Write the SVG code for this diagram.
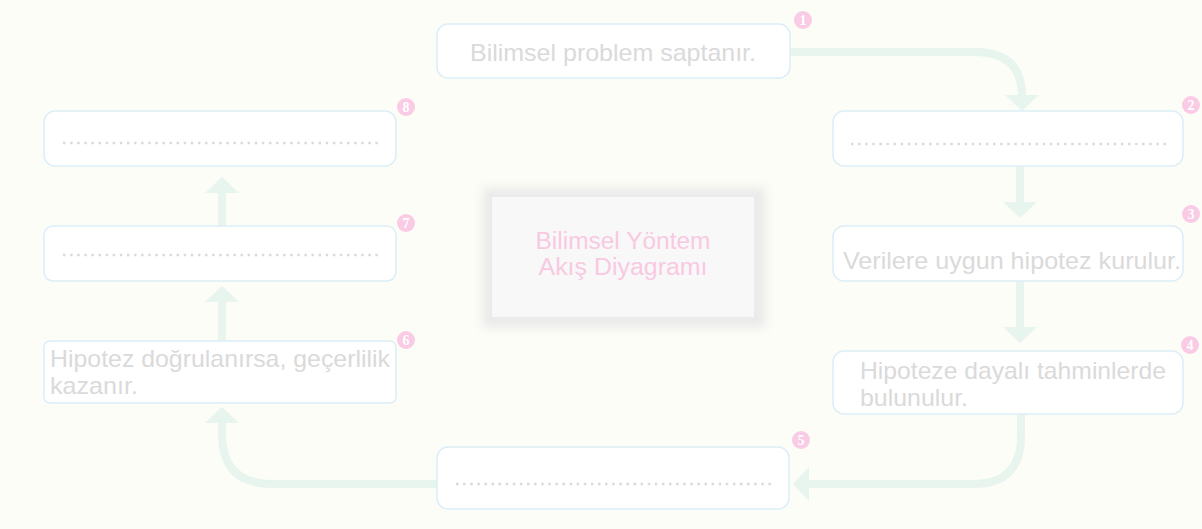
<svg xmlns="http://www.w3.org/2000/svg" width="1202" height="529" viewBox="0 0 1202 529">
<style>
.node{fill:#ffffff;stroke:#dbeef8;stroke-width:1.5}
.txt{font-family:"Liberation Sans",Arial,sans-serif;font-size:24px;fill:#dadada}
.dots{stroke:#dadada;stroke-width:2.5;stroke-dasharray:2.5 4.6;fill:none}
.badge{fill:#f9cbe4}
.bnum{font-family:"Liberation Serif","Times New Roman",serif;font-size:14px;font-weight:bold;fill:#ffffff;text-anchor:middle}
.conn{fill:none;stroke:#e8f4ee;stroke-width:8}
.title{font-family:"Liberation Sans",Arial,sans-serif;font-size:23px;fill:#f9c9e2;text-anchor:middle}
</style>
<defs>
<marker id="ah" viewBox="0 0 16 34" refX="1" refY="17" markerWidth="16" markerHeight="34" markerUnits="userSpaceOnUse" orient="auto">
<path d="M0,0 L16,17 L0,34 z" fill="#e8f4ee"/>
</marker>
<filter id="blur" x="-20%" y="-20%" width="140%" height="140%">
<feGaussianBlur stdDeviation="5"/>
</filter>
</defs>
<rect width="1202" height="529" fill="#fdfdf7"/>

<g id="connectors">
<path class="conn" d="M790,52 H975 Q1022,52 1022,96" marker-end="url(#ah)"/>
<path class="conn" d="M1020,166 V203" marker-end="url(#ah)"/>
<path class="conn" d="M1020,281 V328" marker-end="url(#ah)"/>
<path class="conn" d="M1021,414 V436 Q1021,484 973,484 H808" marker-end="url(#ah)"/>
<path class="conn" d="M437,484 H272 Q222,484 222,434 V422" marker-end="url(#ah)"/>
<path class="conn" d="M222,341 V301" marker-end="url(#ah)"/>
<path class="conn" d="M222,226 V192" marker-end="url(#ah)"/>
</g>

<g id="center">
<rect x="482" y="187" width="284" height="141" fill="#ebebeb" filter="url(#blur)"/>
<rect x="492" y="197" width="262" height="120" fill="#f8f8f8"/>
<text class="title" x="623" y="249" textLength="175" lengthAdjust="spacingAndGlyphs">Bilimsel Yöntem</text>
<text class="title" x="623" y="275" textLength="169" lengthAdjust="spacingAndGlyphs">Akış Diyagramı</text>
</g>

<g id="node1">
<rect class="node" x="437" y="24" width="353" height="54" rx="11"/>
<text class="txt" x="470" y="61" textLength="286" lengthAdjust="spacingAndGlyphs">Bilimsel problem saptanır.</text>
<circle class="badge" cx="803" cy="20" r="9"/><text class="bnum" x="803" y="25">1</text>
</g>

<g id="node2">
<rect class="node" x="833" y="111" width="350" height="55" rx="11"/>
<line class="dots" x1="851" y1="144" x2="1168" y2="144"/>
<circle class="badge" cx="1191" cy="105" r="9"/><text class="bnum" x="1191" y="110">2</text>
</g>

<g id="node3">
<rect class="node" x="833" y="226" width="350" height="55" rx="11"/>
<text class="txt" x="843" y="269" textLength="338" lengthAdjust="spacingAndGlyphs">Verilere uygun hipotez kurulur.</text>
<circle class="badge" cx="1191" cy="214" r="9"/><text class="bnum" x="1191" y="219">3</text>
</g>

<g id="node4">
<rect class="node" x="833" y="351" width="350" height="63" rx="11"/>
<text class="txt" x="860" y="379" textLength="306" lengthAdjust="spacingAndGlyphs">Hipoteze dayalı tahminlerde</text>
<text class="txt" x="860" y="406" textLength="108" lengthAdjust="spacingAndGlyphs">bulunulur.</text>
<circle class="badge" cx="1190" cy="345" r="9"/><text class="bnum" x="1190" y="350">4</text>
</g>

<g id="node5">
<rect class="node" x="437" y="447" width="352" height="62" rx="11"/>
<line class="dots" x1="456" y1="484" x2="772" y2="484"/>
<circle class="badge" cx="801" cy="440" r="9"/><text class="bnum" x="801" y="445">5</text>
</g>

<g id="node6">
<rect class="node" x="44" y="341" width="352" height="62" rx="6"/>
<text class="txt" x="50" y="367" textLength="340" lengthAdjust="spacingAndGlyphs">Hipotez doğrulanırsa, geçerlilik</text>
<text class="txt" x="50" y="394" textLength="88" lengthAdjust="spacingAndGlyphs">kazanır.</text>
<circle class="badge" cx="406" cy="340" r="9"/><text class="bnum" x="406" y="345">6</text>
</g>

<g id="node7">
<rect class="node" x="44" y="226" width="352" height="55" rx="9"/>
<line class="dots" x1="63" y1="255" x2="380" y2="255"/>
<circle class="badge" cx="406" cy="223" r="9"/><text class="bnum" x="406" y="228">7</text>
</g>

<g id="node8">
<rect class="node" x="44" y="111" width="352" height="55" rx="11"/>
<line class="dots" x1="63" y1="143" x2="380" y2="143"/>
<circle class="badge" cx="406" cy="107" r="9"/><text class="bnum" x="406" y="112">8</text>
</g>
</svg>
